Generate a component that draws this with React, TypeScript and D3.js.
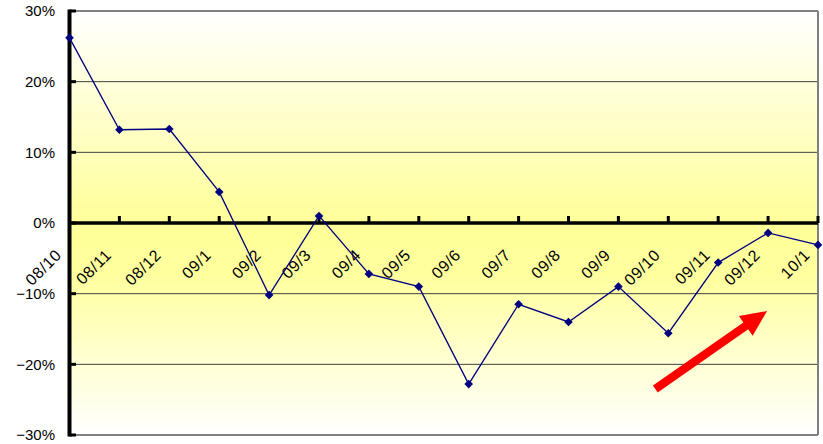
import React from "react";
import * as d3 from "d3";

const categories = ["08/10","08/11","08/12","09/1","09/2","09/3","09/4","09/5","09/6","09/7","09/8","09/9","09/10","09/11","09/12","10/1"];
const values = [26.2,13.2,13.3,4.4,-10.2,1.0,-7.2,-9.0,-22.8,-11.5,-14.0,-9.0,-15.6,-5.6,-1.4,-3.1];
const yTicks = [30,20,10,0,-10,-20,-30];
// trend arrow annotation, in (category index, percent)
const arrowFrom = [11.74, -23.5];
const arrowTo = [13.98, -12.45];

const W = 823, H = 444;
const left = 69.5, right = 818, top = 11, bottom = 435;

export default function App() {
  const x = d3.scalePoint<string>().domain(categories).range([left, right]);
  const xi = d3.scaleLinear().domain([0, categories.length - 1]).range([left, right]);
  const y = d3.scaleLinear().domain([-30, 30]).range([bottom, top]);
  const line = d3.line<number>().x((_, i) => x(categories[i])!).y(d => y(d));
  const fmt = (t: number) => (t < 0 ? "\u2212" + Math.abs(t) : String(t)) + "%";

  const ax1 = xi(arrowFrom[0]), ay1 = y(arrowFrom[1]);
  const ax2 = xi(arrowTo[0]), ay2 = y(arrowTo[1]);
  const ang = Math.atan2(ay2 - ay1, ax2 - ax1);
  const len = Math.hypot(ax2 - ax1, ay2 - ay1);
  const sw = 4.2, hl = 26, hw = 12;
  const pts: [number, number][] = [
    [0, -sw], [len - hl, -sw], [len - hl, -hw], [len, 0], [len - hl, hw], [len - hl, sw], [0, sw],
  ];
  const arrowPts = pts
    .map(([u, v]) => [ax1 + u * Math.cos(ang) - v * Math.sin(ang), ay1 + u * Math.sin(ang) + v * Math.cos(ang)])
    .map(p => p.join(","))
    .join(" ");

  const font = "'Liberation Sans', Arial, sans-serif";

  return (
    <svg width={W} height={H} style={{ position: "absolute", left: 0, top: 0 }} fontFamily={font}>
      <defs>
        <linearGradient id="bg" x1="0" y1="0" x2="0" y2="1">
          <stop offset="0" stopColor="#FFFFFF" />
          <stop offset="0.5" stopColor="#FFFF99" />
          <stop offset="0.62" stopColor="#FFFF9E" />
          <stop offset="1" stopColor="#FFFFFF" />
        </linearGradient>
      </defs>
      <rect x={0} y={0} width={W} height={H} fill="#FFFFFF" />
      <rect x={left} y={top} width={right - left} height={bottom - top} fill="url(#bg)" />
      {yTicks.map(t => (
        <line key={"g" + t} x1={left} x2={right} y1={y(t)} y2={y(t)}
          stroke={t === 30 || t === -30 ? "#808080" : "#404040"} strokeWidth={t === 30 || t === -30 ? 2 : 1} />
      ))}
      <line x1={right} x2={right} y1={top} y2={bottom} stroke="#808080" strokeWidth={2} />
      <line x1={left} x2={left} y1={top - 1.5} y2={bottom + 1.5} stroke="#000" strokeWidth={4} />
      {yTicks.map(t => (
        <line key={"yt" + t} x1={left} x2={left + 6.5} y1={y(t)} y2={y(t)} stroke="#000" strokeWidth={3} />
      ))}
      {yTicks.map(t => (
        <text key={"yl" + t} x={55} y={y(t)} dy="0.36em" textAnchor="end" fontSize={15} fill="#000">{fmt(t)}</text>
      ))}
      <line x1={left} x2={right} y1={y(0)} y2={y(0)} stroke="#000" strokeWidth={3.5} />
      {categories.slice(1).map(c => (
        <line key={"xt" + c} x1={x(c)} x2={x(c)} y1={y(0)} y2={y(0) - 7} stroke="#000" strokeWidth={3} />
      ))}
      {categories.map(c => (
        <text key={"xl" + c} transform={`translate(${x(c)! - 7},256) rotate(-45)`} textAnchor="end"
          fontSize={16} letterSpacing={0.6} fill="#000">{c}</text>
      ))}
      <path d={line(values)!} fill="none" stroke="#000080" strokeWidth={1.3} />
      {values.map((v, i) => {
        const cx = x(categories[i])!, cy = y(v), r = 4.3;
        return <polygon key={"m" + i} points={`${cx},${cy - r} ${cx + r},${cy} ${cx},${cy + r} ${cx - r},${cy}`} fill="#000080" />;
      })}
      <polygon points={arrowPts} fill="#FF0000" />
    </svg>
  );
}
